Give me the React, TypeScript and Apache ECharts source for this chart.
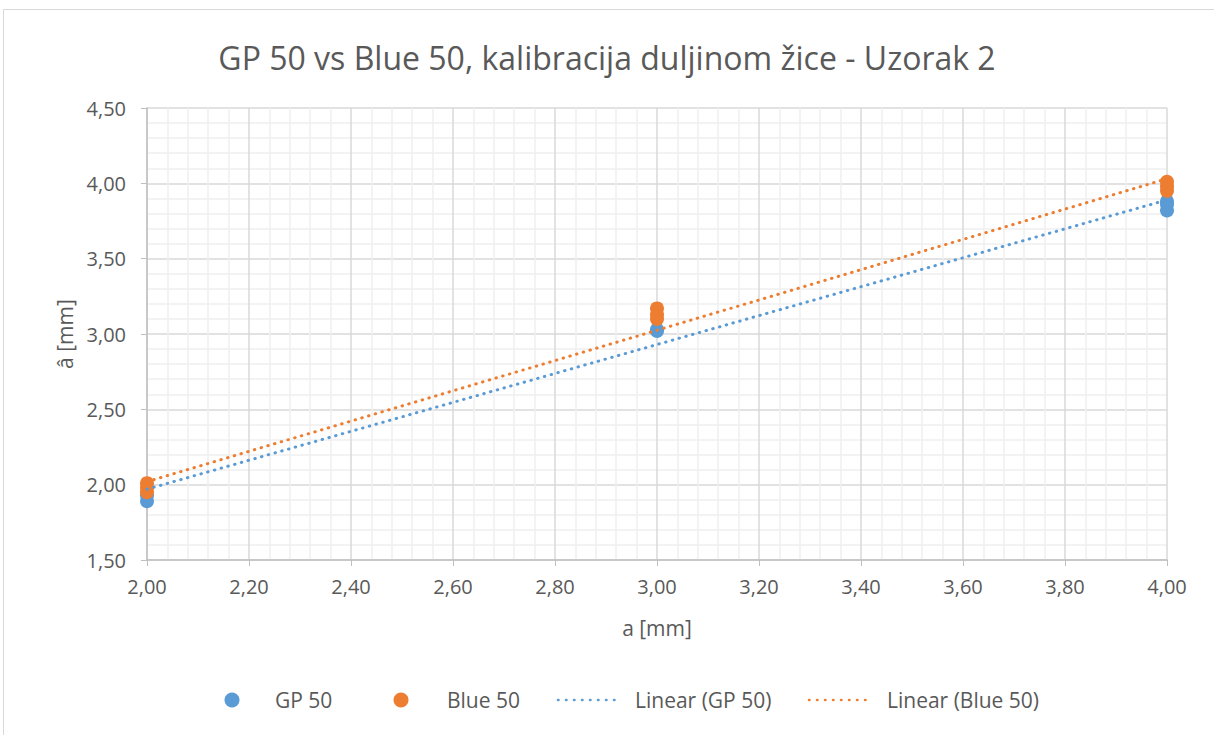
import React, { useEffect, useRef } from "react";
import * as echarts from "echarts";

const titleText = "GP 50 vs Blue 50, kalibracija duljinom žice - Uzorak 2";
const xName = "a [mm]";
const yName = "â [mm]";

const gpX = [2, 2, 3, 3, 4, 4, 4];
const gpY = [1.89, 1.93, 3.02, 3.03, 3.82, 3.86, 3.88];
const blueX = [2, 2, 2, 3, 3, 3, 4, 4, 4];
const blueY = [1.95, 1.98, 2.01, 3.1, 3.13, 3.17, 3.95, 3.98, 4.01];

const trendX = [2, 4];
const gpTrendY = [1.97, 3.89];
const blueTrendY = [2.02, 4.03];

const seriesNames = ["GP 50", "Blue 50", "Linear (GP 50)", "Linear (Blue 50)"];

const BLUE = "#5b9bd5";
const ORANGE = "#ed7d31";
const TEXT = "#595959";
const FONT = "'Open Sans', 'Noto Sans', sans-serif";
const DOTS = [0.5, 6.5];

const fmt = (v: number) => v.toFixed(2).replace(".", ",");

export default function App() {
  const ref = useRef<HTMLDivElement>(null);
  useEffect(() => {
    if (!ref.current) return;
    const chart = echarts.init(ref.current, undefined, { renderer: "svg" });
    const zip = (xs: number[], ys: number[]) => xs.map((x, i) => [x, ys[i]]);
    const trendStyle = (color: string) => ({
      color,
      width: 3,
      type: DOTS,
      cap: "round" as const,
    });
    const legendY = 700;
    const legendText = (x: number, text: string) => ({
      type: "text",
      x,
      y: legendY,
      silent: true,
      style: {
        text,
        fill: TEXT,
        font: `21px ${FONT}`,
        textVerticalAlign: "middle",
        verticalAlign: "middle",
      },
    });
    const legendLine = (x1: number, color: string) => ({
      type: "line",
      shape: { x1, y1: legendY, x2: x1 + 64, y2: legendY },
      style: { stroke: color, lineWidth: 2.5, lineDash: [0.5, 7.5], lineCap: "round" },
      silent: true,
    });
    chart.setOption({
      animation: false,
      backgroundColor: "#ffffff",
      textStyle: { fontFamily: FONT },
      graphic: [
        {
          type: "rect",
          shape: { x: 3.5, y: 9.5, width: 1300, height: 800 },
          style: { fill: "none", stroke: "#d9d9d9", lineWidth: 1 },
          silent: true,
        },
        { type: "circle", shape: { cx: 232, cy: legendY, r: 7.5 }, style: { fill: BLUE }, silent: true },
        legendText(275, seriesNames[0]),
        { type: "circle", shape: { cx: 401, cy: legendY, r: 7.5 }, style: { fill: ORANGE }, silent: true },
        legendText(447, seriesNames[1]),
        legendLine(558, BLUE),
        legendText(635, seriesNames[2]),
        legendLine(809, ORANGE),
        legendText(887, seriesNames[3]),
      ],
      title: {
        text: titleText,
        left: "center",
        top: 36,
        textStyle: { color: TEXT, fontSize: 32, fontWeight: "normal", fontFamily: FONT },
      },
      grid: { left: 147, right: 47, top: 108, bottom: 175 },
      xAxis: {
        type: "value",
        min: 2,
        max: 4,
        interval: 0.2,
        name: xName,
        nameLocation: "middle",
        nameGap: 57,
        nameTextStyle: { color: TEXT, fontSize: 21, fontFamily: FONT },
        axisLine: { show: true, lineStyle: { color: "#bfbfbf", width: 1.5 } },
        axisTick: { show: true, length: 6, lineStyle: { color: "#bfbfbf" } },
        axisLabel: { color: TEXT, fontSize: 20, margin: 16, formatter: fmt, fontFamily: FONT },
        splitLine: { show: true, lineStyle: { color: "#d9d9d9", width: 1.5 } },
        minorTick: { show: false, splitNumber: 5 },
        minorSplitLine: { show: true, lineStyle: { color: "#efefef", width: 1.5 } },
      },
      yAxis: {
        type: "value",
        min: 1.5,
        max: 4.5,
        interval: 0.5,
        name: yName,
        nameLocation: "middle",
        nameGap: 47,
        nameTextStyle: { color: TEXT, fontSize: 21, fontFamily: FONT },
        axisLine: { show: true, lineStyle: { color: "#bfbfbf", width: 1.5 } },
        axisTick: { show: true, length: 6, lineStyle: { color: "#bfbfbf" } },
        axisLabel: { color: TEXT, fontSize: 20, margin: 21, formatter: fmt, fontFamily: FONT },
        splitLine: { show: true, lineStyle: { color: "#d9d9d9", width: 1.5 } },
        minorTick: { show: false, splitNumber: 5 },
        minorSplitLine: { show: true, lineStyle: { color: "#efefef", width: 1.5 } },
      },
      series: [
        {
          name: seriesNames[0],
          type: "scatter",
          symbol: "circle",
          symbolSize: 14,
          itemStyle: { color: BLUE, opacity: 1 },
          data: zip(gpX, gpY),
          z: 2,
        },
        {
          name: seriesNames[1],
          type: "scatter",
          symbol: "circle",
          symbolSize: 14,
          itemStyle: { color: ORANGE, opacity: 1 },
          data: zip(blueX, blueY),
          z: 3,
        },
        {
          name: seriesNames[2],
          type: "line",
          symbol: "none",
          showSymbol: false,
          itemStyle: { color: BLUE },
          lineStyle: trendStyle(BLUE),
          data: zip(trendX, gpTrendY),
          z: 4,
        },
        {
          name: seriesNames[3],
          type: "line",
          symbol: "none",
          showSymbol: false,
          itemStyle: { color: ORANGE },
          lineStyle: trendStyle(ORANGE),
          data: zip(trendX, blueTrendY),
          z: 5,
        },
      ],
    });
    return () => chart.dispose();
  }, []);
  return (
    <div
      ref={ref}
      style={{ position: "fixed", left: 0, top: 0, width: 1214, height: 735 }}
    />
  );
}
